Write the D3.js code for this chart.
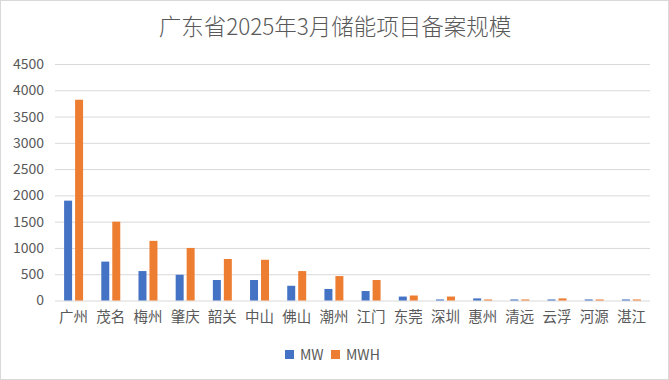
<!DOCTYPE html>
<html>
<head>
<meta charset="utf-8">
<script src="https://cdn.jsdelivr.net/npm/d3@7"></script>
<style>
  body { margin: 0; background: #fff; }
  svg text { font-family: "Noto Sans CJK SC", "Noto Sans", sans-serif; fill: #595959; }
</style>
</head>
<body>
<div id="chart"></div>
<script>
var cities = ["广州", "茂名", "梅州", "肇庆", "韶关", "中山", "佛山", "潮州", "江门", "东莞", "深圳", "惠州", "清远", "云浮", "河源", "湛江"];
var mw  = [1900, 740, 560, 490, 390, 390, 280, 220, 180, 75, 20, 40, 20, 20, 20, 20];
var mwh = [3820, 1500, 1135, 1000, 790, 775, 560, 465, 390, 95, 75, 20, 20, 40, 20, 20];
var seriesNames = ["MW", "MWH"];
var colors = ["#4472c4", "#ed7d31"];
var yTicks = [0, 500, 1000, 1500, 2000, 2500, 3000, 3500, 4000, 4500];

var width = 669, height = 380;
var margin = {top: 64, right: 19, bottom: 79.5, left: 55};
var innerW = width - margin.left - margin.right;
var innerH = height - margin.top - margin.bottom;

var data = cities.map(function(c, i) {
  return {city: c, values: [mw[i], mwh[i]]};
});

var svg = d3.select("#chart").append("svg")
    .attr("width", width)
    .attr("height", height);

// outer border
svg.append("rect")
    .attr("x", 0.5).attr("y", 0.5)
    .attr("width", width - 1).attr("height", height - 1)
    .attr("fill", "#fff")
    .attr("stroke", "#d9d9d9");

svg.append("text")
    .attr("x", 335)
    .attr("y", 35)
    .attr("text-anchor", "middle")
    .style("font-size", "22.5px")
    .style("font-weight", "300")
    .text("广东省2025年3月储能项目备案规模");

var g = svg.append("g")
    .attr("transform", "translate(" + margin.left + "," + margin.top + ")");

var x0 = d3.scaleBand()
    .domain(cities)
    .range([0, innerW])
    .paddingInner(0.49)
    .paddingOuter(0.245);

var x1 = d3.scaleBand()
    .domain(seriesNames)
    .range([0, x0.bandwidth()])
    .paddingInner(0.273);

var y = d3.scaleLinear()
    .domain([0, 4500])
    .range([innerH, 0]);

var yAxis = d3.axisLeft(y)
    .tickValues(yTicks)
    .tickFormat(d3.format("d"))
    .tickSize(-innerW)
    .tickPadding(11);

g.append("g")
    .attr("class", "yAxis")
    .call(yAxis)
    .call(function(s) {
      s.select(".domain").remove();
      s.selectAll(".tick line").attr("stroke", "#d9d9d9");
      s.selectAll(".tick text").style("font-size", "14px").attr("fill", "#595959");
    });

var groups = g.selectAll(".city")
    .data(data)
    .enter().append("g")
    .attr("class", "city")
    .attr("transform", function(d) { return "translate(" + x0(d.city) + ",0)"; });

groups.selectAll("rect")
    .data(function(d) { return d.values.map(function(v, i) { return {key: seriesNames[i], value: v, i: i}; }); })
    .enter().append("rect")
    .attr("x", function(d) { return x1(d.key); })
    .attr("width", x1.bandwidth())
    .attr("y", function(d) { return y(d.value); })
    .attr("height", function(d) { return innerH - y(d.value); })
    .attr("fill", function(d) { return colors[d.i]; });

var xAxis = d3.axisBottom(x0).tickSize(0).tickPadding(11);

g.append("g")
    .attr("class", "xAxis")
    .attr("transform", "translate(0," + innerH + ")")
    .call(xAxis)
    .call(function(s) {
      s.select(".domain").remove();
      s.selectAll(".tick text").style("font-size", "14.5px").attr("fill", "#595959");
    });

// legend
var legend = svg.append("g").attr("transform", "translate(285,350)");
var lx = [0, 46];
seriesNames.forEach(function(name, i) {
  var item = legend.append("g").attr("transform", "translate(" + lx[i] + ",0)");
  item.append("rect")
      .attr("width", 9).attr("height", 9)
      .attr("fill", colors[i]);
  item.append("text")
      .attr("x", 15)
      .attr("y", 10)
      .style("font-size", "14px")
      .text(name);
});
</script>
</body>
</html>
